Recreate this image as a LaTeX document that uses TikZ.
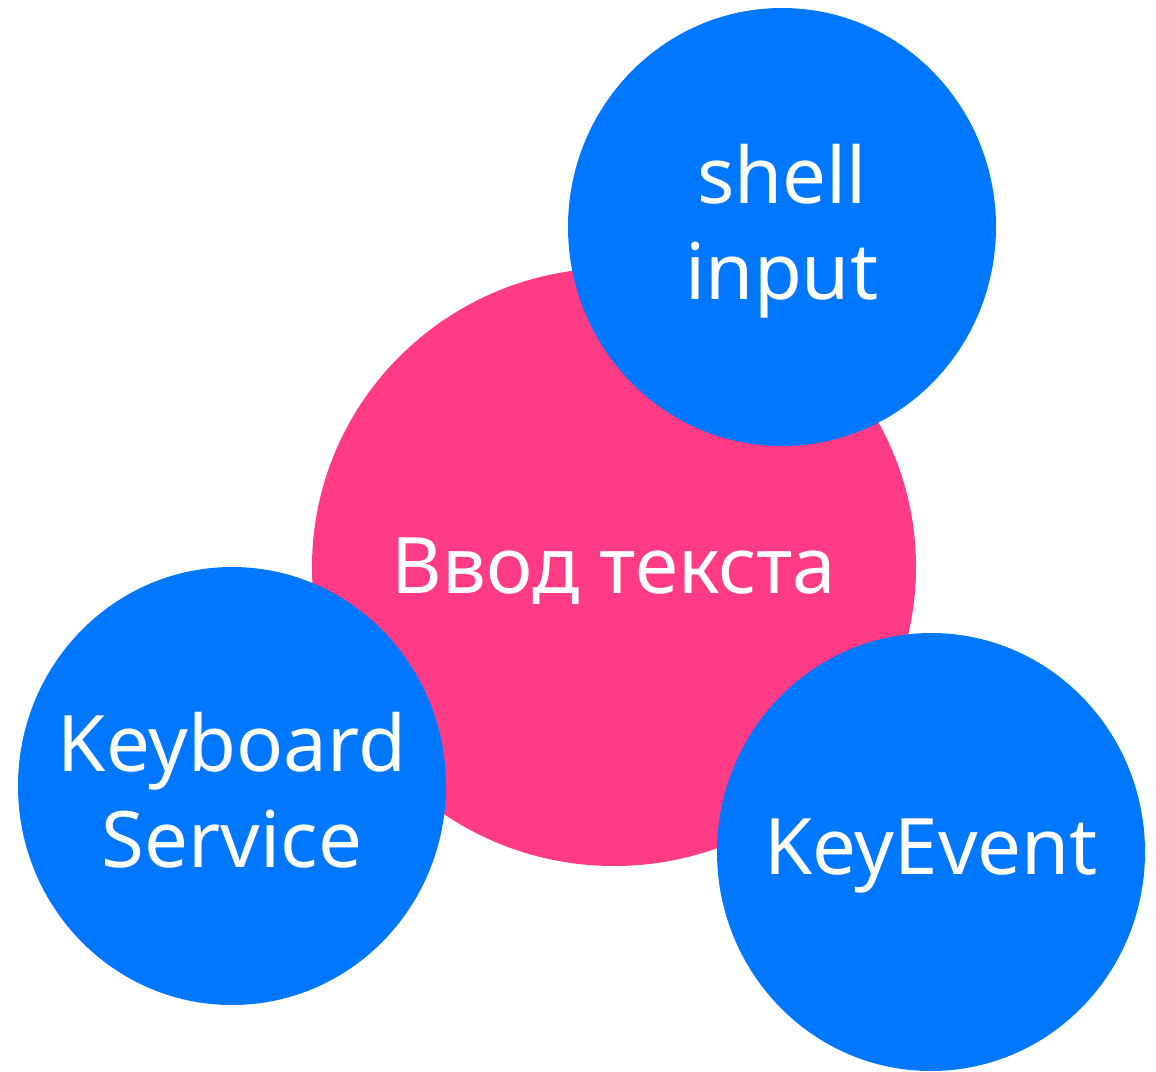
\documentclass[tikz,border=0pt]{standalone}
\usepackage{fontspec}
\setmainfont{Noto Sans}
\usetikzlibrary{shapes.geometric}
\definecolor{rozovy}{HTML}{FF3B85}
\definecolor{siniy}{HTML}{0077FF}
\begin{document}
\begin{tikzpicture}[x=0.5pt,y=-0.5pt,krug/.style={ellipse,inner sep=0pt},tekst/.style={text=white,align=center,font=\fontsize{39}{48}\selectfont,yshift=-2pt}]
				\useasboundingbox (0,0) rectangle (1156,1071);
				\node[krug,fill=rozovy,minimum width=302pt,minimum height=299pt,label={[tekst]center:Ввод текста}] (vvod) at (614,567) {};
				\foreach \imya/\x/\y/\nadpis in {shell/782/227/{shell\\input},keyboard/232/786/{Keyboard\\Service},keyevent/931/852/{KeyEvent}}
				\node[krug,fill=siniy,minimum width=214pt,minimum height=219pt,label={[tekst]center:\nadpis}] (\imya) at (\x,\y) {};
			\end{tikzpicture}
\end{document}
